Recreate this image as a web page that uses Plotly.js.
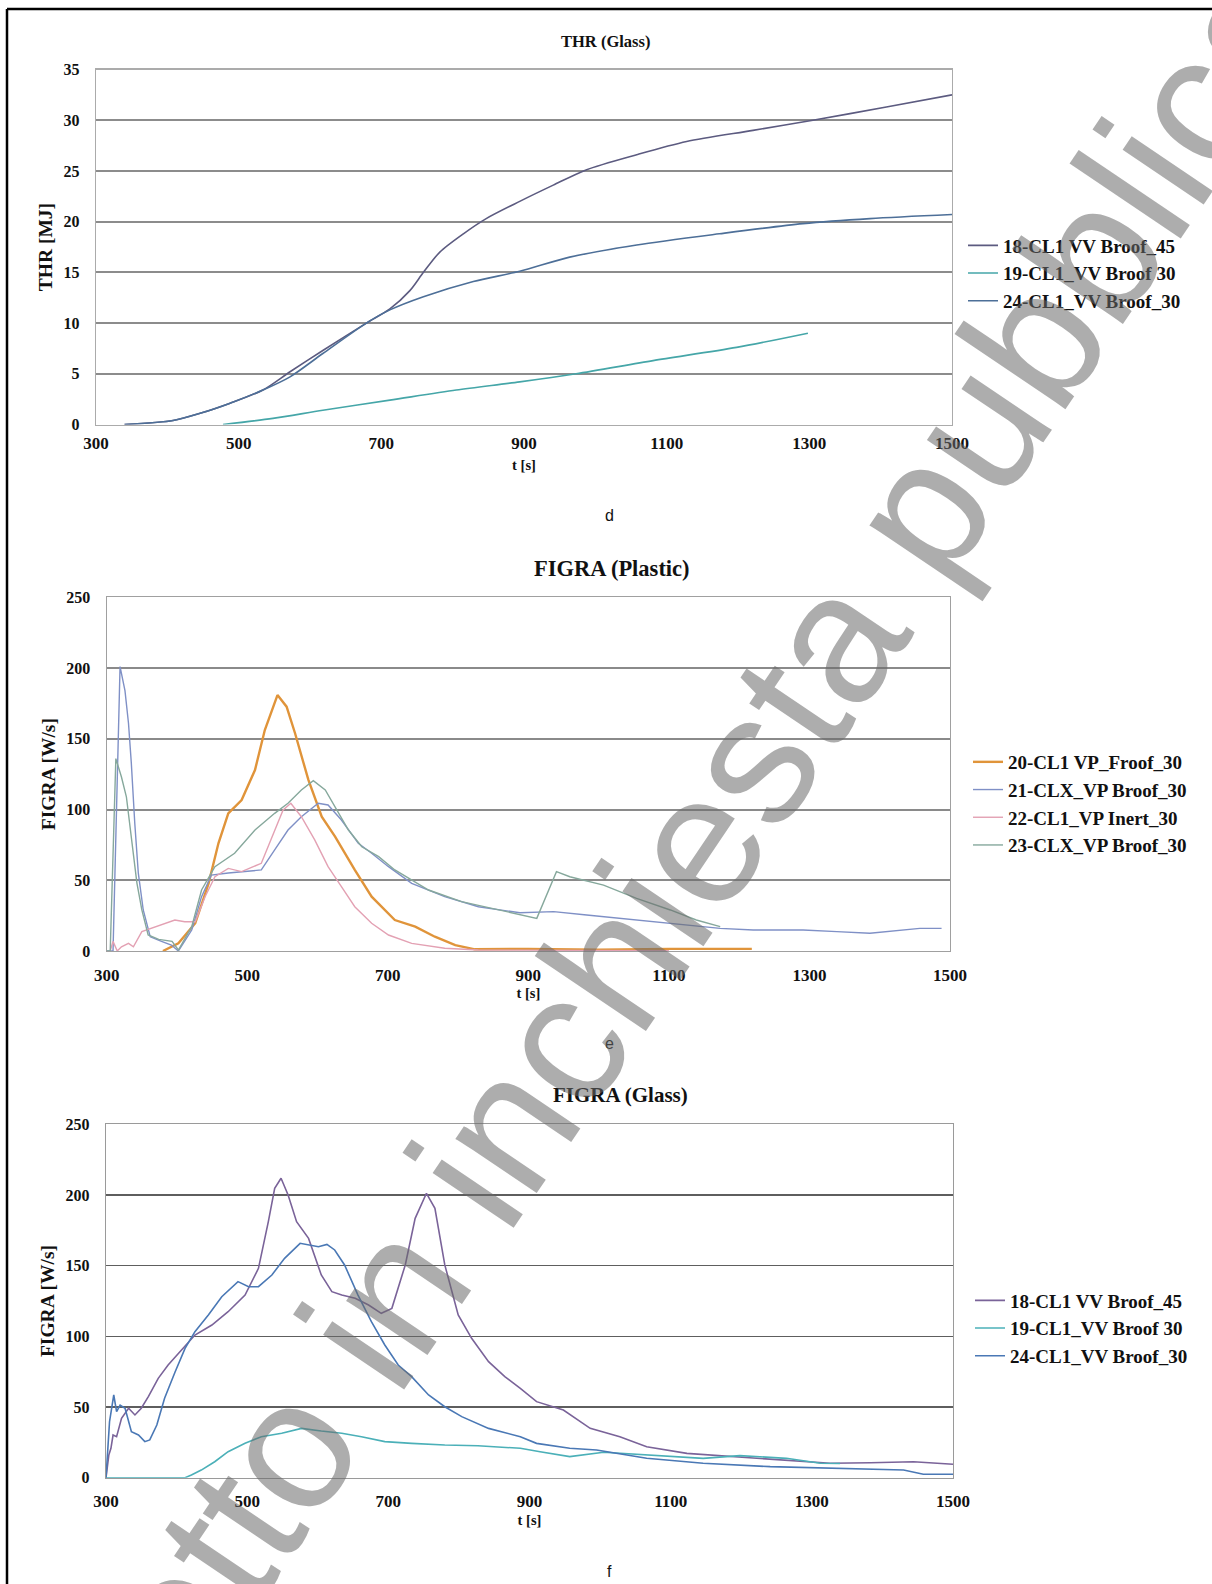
<!DOCTYPE html>
<html><head><meta charset="utf-8">
<script src="https://cdn.plot.ly/plotly-3.0.1.min.js"></script>
<style>html,body{margin:0;padding:0;background:#fff}#chart{width:1212px;height:1584px}</style>
</head><body><div id="chart"></div>
<script>
// ---------- Data: THR (Glass) ----------
const thrT18 = [340, 408, 446, 488, 534, 572, 618, 679, 712, 740, 759, 782, 815, 847, 894, 941, 987, 1058, 1128, 1221, 1305, 1408, 1500];
const thrV18 = [0, 0.4, 1.1, 2.1, 3.4, 5.2, 7.3, 10.0, 11.4, 13.2, 15.0, 17.0, 18.8, 20.3, 22.0, 23.6, 25.1, 26.6, 27.9, 29.0, 30.0, 31.3, 32.5];
const thrT19 = [478, 548, 618, 712, 805, 894, 973, 1081, 1198, 1298];
const thrV19 = [0, 0.6, 1.4, 2.4, 3.4, 4.2, 5.0, 6.3, 7.6, 9.0];
const thrT24 = [340, 408, 446, 488, 534, 572, 618, 679, 712, 759, 829, 894, 964, 1058, 1174, 1291, 1385, 1500];
const thrV24 = [0, 0.4, 1.1, 2.1, 3.4, 4.7, 7.0, 10.0, 11.3, 12.6, 14.1, 15.1, 16.5, 17.7, 18.8, 19.8, 20.3, 20.7];

// ---------- Data: FIGRA (Plastic) ----------
const plT20 = [380, 402, 426, 445, 459, 473, 492, 511, 525, 543, 556, 568, 587, 606, 625, 653, 677, 710, 739, 767, 796, 824, 900, 1000, 1100, 1218];
const plV20 = [0, 5.4, 19.6, 47.8, 76.1, 97.3, 106.7, 127.9, 156.2, 180.9, 172.7, 153.9, 120.9, 94.9, 80.8, 57.3, 38.4, 21.9, 17.2, 10.1, 4.2, 1.2, 1.5, 1.0, 1.5, 1.5];
const plT21 = [300, 309, 319, 326, 331, 335, 340, 345, 352, 362, 378, 392, 402, 421, 435, 449, 473, 497, 520, 539, 558, 577, 601, 615, 634, 658, 677, 701, 734, 781, 829, 888, 936, 983, 1030, 1102, 1173, 1220, 1291, 1339, 1386, 1457, 1488];
const plV21 = [0, 0, 201, 184, 161, 133, 90, 55, 29, 10, 6.8, 4.2, 0, 14.8, 38.4, 53.7, 55.1, 56.1, 57.3, 71.4, 85.5, 94.9, 104.4, 103.2, 92.6, 76.1, 69.1, 59.6, 47.8, 38.4, 31.3, 27.0, 27.8, 25.4, 23.1, 19.6, 16.0, 14.8, 14.8, 13.7, 12.5, 16.0, 16.0];
const plT22 = [305, 309, 315, 321, 331, 338, 350, 364, 378, 397, 411, 426, 440, 454, 473, 492, 520, 539, 551, 562, 577, 596, 615, 634, 653, 677, 701, 734, 781, 829, 900, 1000, 1100];
const plV22 = [0, 6.8, 0, 3.0, 5.4, 3.0, 13.7, 16.0, 18.4, 21.9, 20.7, 20.7, 38.4, 52.5, 58.4, 56.1, 62.0, 85.5, 99.7, 104.4, 94.9, 78.5, 59.6, 45.5, 31.3, 19.6, 11.3, 5.4, 1.9, 0.7, 0.5, 0.3, 0.3];
const plT23 = [300, 305, 313, 321, 328, 336, 343, 350, 359, 374, 393, 402, 421, 435, 454, 482, 511, 539, 558, 577, 594, 611, 625, 644, 663, 687, 710, 758, 805, 888, 912, 940, 959, 1007, 1054, 1102, 1139, 1173];
const plV23 = [0, 0, 136, 123, 109, 76, 48, 29, 11.3, 8.2, 6.8, 0.7, 17.2, 43.1, 59.6, 69.1, 85.5, 97.3, 104.4, 113.8, 120.4, 113.8, 102.0, 85.5, 73.7, 66.7, 57.3, 43.1, 34.9, 25.4, 23.1, 56.1, 52.5, 46.6, 37.2, 29.0, 21.9, 17.2];

// ---------- Data: FIGRA (Glass) ----------
const glT18 = [300, 304, 307, 310, 315, 322, 332, 341, 350, 360, 374, 388, 407, 426, 450, 473, 497, 516, 530, 539, 548, 558, 570, 587, 605, 620, 634, 653, 672, 690, 705, 724, 738, 754, 766, 780, 799, 818, 842, 865, 887, 910, 948, 986, 1028, 1066, 1123, 1194, 1264, 1326, 1383, 1444, 1500];
const glV18 = [0, 16, 20.8, 30.2, 29, 42, 49.1, 44.4, 49.1, 57.3, 70.3, 79.7, 90.3, 100.9, 108, 117.4, 129.2, 148.1, 181.1, 204.7, 211.8, 200, 181.1, 169.3, 143.4, 131.6, 129.2, 126.9, 122.2, 116.3, 119.8, 150.5, 183.5, 201.2, 190.6, 150.5, 115.1, 98.6, 82.1, 71.5, 63.2, 53.8, 47.9, 34.9, 29, 21.9, 17.2, 14.9, 12.5, 10.2, 10.6, 11.3, 9.5];
const glT19 = [300, 412, 421, 435, 454, 473, 497, 520, 549, 577, 605, 634, 662, 695, 733, 780, 827, 887, 915, 957, 1005, 1076, 1146, 1198, 1264, 1312, 1340];
const glV19 = [0, 0, 1.9, 5.4, 11.3, 18.4, 24.3, 29, 31.4, 34.9, 33, 31.4, 29, 25.5, 24.3, 23.1, 22.6, 20.8, 18.4, 14.9, 18, 16.1, 13.7, 15.6, 13.7, 10.2, 10];
const glT24 = [300, 305, 311, 315, 320, 327, 336, 346, 355, 362, 372, 383, 398, 412, 426, 445, 464, 487, 502, 516, 535, 553, 575, 587, 601, 613, 624, 638, 657, 676, 695, 714, 733, 757, 780, 804, 842, 887, 910, 957, 995, 1066, 1146, 1241, 1335, 1430, 1458, 1500];
const glV24 = [0, 39.6, 58.5, 46.7, 51.4, 49.1, 32.5, 30.2, 25.5, 26.7, 37.3, 56.2, 75, 91.5, 103.3, 115.1, 128, 138.7, 135.1, 135.1, 143.4, 155.2, 165.8, 164.6, 163.4, 165, 161.1, 150.5, 129.2, 110.4, 93.9, 79.7, 71.5, 58.5, 50.2, 43.2, 34.9, 29, 24.3, 20.8, 19.6, 13.7, 10.2, 7.8, 6.6, 5.4, 2.4, 2.4];

// ---------- Labels ----------
const xTickVals = [300, 500, 700, 900, 1100, 1300, 1500];
const names1 = ['18-CL1 VV Broof_45', '19-CL1_VV Broof 30', '24-CL1_VV Broof_30'];
const names2 = ['20-CL1 VP_Froof_30', '21-CLX_VP Broof_30', '22-CL1_VP Inert_30', '23-CLX_VP Broof_30'];
const titles = ['THR (Glass)', 'FIGRA (Plastic)', 'FIGRA (Glass)'];
const yTitles = ['THR [MJ]', 'FIGRA [W/s]', 'FIGRA [W/s]'];
const xTitle = 't [s]';
const panelLetters = ['d', 'e', 'f'];
const watermark = 'Progetto in inchiesta pubblica';

// ---------- Layout helpers ----------
const W = 1212, H = 1584;
const fx = v => v / W, fy = v => 1 - v / H;
const tnr = (s) => ({family: 'Liberation Serif', size: s, color: '#111', weight: 'bold'});

function tr(x, y, name, color, width, xa, ya, lg, shape) {
  return {x: x, y: y, name: name, type: 'scatter', mode: 'lines', xaxis: xa, yaxis: ya,
    legend: lg, legendgroup: lg + name,
    line: {color: color, width: width, shape: shape || 'linear', smoothing: 0.8}};
}

const traces = [
  tr(thrT18, thrV18, names1[0], '#5c5b80', 1.6, 'x', 'y', 'legend', 'spline'),
  tr(thrT19, thrV19, names1[1], '#45a6a8', 1.6, 'x', 'y', 'legend', 'spline'),
  tr(thrT24, thrV24, names1[2], '#4d6f98', 1.6, 'x', 'y', 'legend', 'spline'),
  tr(plT20, plV20, names2[0], '#e0943a', 2.4, 'x2', 'y2', 'legend2'),
  tr(plT21, plV21, names2[1], '#7f90c6', 1.4, 'x2', 'y2', 'legend2'),
  tr(plT22, plV22, names2[2], '#e3a1b3', 1.4, 'x2', 'y2', 'legend2'),
  tr(plT23, plV23, names2[3], '#86a89c', 1.4, 'x2', 'y2', 'legend2'),
  tr(glT18, glV18, names1[0], '#7a6399', 1.6, 'x3', 'y3', 'legend3'),
  tr(glT19, glV19, names1[1], '#4bb0b8', 1.6, 'x3', 'y3', 'legend3'),
  tr(glT24, glV24, names1[2], '#4a78b5', 1.6, 'x3', 'y3', 'legend3')
];

function xAxis(d0, d1, anchor, lineColor, standoff, titleStandoff) {
  return {domain: [fx(d0), fx(d1)], anchor: anchor, range: [300, 1500], tickvals: xTickVals,
    showgrid: false, zeroline: false, showline: true, mirror: true, linecolor: lineColor, linewidth: 1.2,
    ticks: '', ticklabelstandoff: standoff, tickfont: tnr(17), fixedrange: true,
    title: {text: xTitle, font: tnr(14.5), standoff: titleStandoff}};
}
function yAxis(d0, d1, anchor, rng, dt, gridColor, gridWidth, lineColor, title) {
  return {domain: [fy(d0), fy(d1)], anchor: anchor, range: rng, dtick: dt, tick0: 0,
    showgrid: true, gridcolor: gridColor, gridwidth: gridWidth, zeroline: false,
    showline: true, mirror: true, linecolor: lineColor, linewidth: 1.2,
    ticks: '', ticklabelstandoff: 12, tickfont: tnr(16), fixedrange: true,
    title: {text: title, font: tnr(19.5), standoff: 5}};
}
function legend(xPx, yPx, gap) {
  return {x: fx(xPx), xanchor: 'left', y: fy(yPx), yanchor: 'middle', bgcolor: 'rgba(0,0,0,0)',
    font: tnr(19), tracegroupgap: gap, itemwidth: 30};
}
function ann(text, xPx, yPx, font, extra) {
  return Object.assign({text: text, xref: 'paper', yref: 'paper', x: fx(xPx), y: fy(yPx),
    xanchor: 'center', yanchor: 'middle', showarrow: false, font: font}, extra || {});
}

const layout = {
  width: W, height: H, margin: {l: 0, r: 0, t: 0, b: 0},
  paper_bgcolor: '#ffffff', plot_bgcolor: '#ffffff', showlegend: true,
  xaxis: xAxis(96, 952, 'y', '#ababab', 3, 7),
  yaxis: yAxis(424.5, 69.5, 'x', [0, 35], 5, '#8c8c8c', 2, '#ababab', yTitles[0]),
  xaxis2: xAxis(106.7, 950, 'y2', '#a0a0a0', 8, 4),
  yaxis2: yAxis(951, 597.3, 'x2', [0, 250], 50, '#8a8a8a', 2, '#a0a0a0', yTitles[1]),
  xaxis3: xAxis(106, 953, 'y3', '#9a9a9a', 8, 4),
  yaxis3: yAxis(1477.7, 1124.3, 'x3', [0, 250], 50, '#5e5e5e', 1.2, '#9a9a9a', yTitles[2]),
  legend: legend(963, 273.5, 0),
  legend2: legend(968, 803.5, 0),
  legend3: legend(970, 1328.5, 0),
  annotations: [
    ann(titles[0], 605, 42, tnr(16.5)),
    ann(titles[1], 612, 568, tnr(22.5)),
    ann(titles[2], 620, 1095, tnr(21)),
    ann(panelLetters[0], 609, 516, {family: 'Liberation Sans', size: 16, color: '#111'}),
    ann(panelLetters[1], 609, 1043, {family: 'Liberation Sans', size: 16, color: '#111'}),
    ann(panelLetters[2], 609, 1571, {family: 'Liberation Sans', size: 16, color: '#111'}),
    ann(watermark, 600, 985, {family: 'Liberation Sans', size: 185, color: 'rgba(105,105,105,0.55)'}, {textangle: -56})
  ],
  shapes: [
    {type: 'line', xref: 'paper', yref: 'paper', x0: fx(7), x1: 1, y0: fy(9), y1: fy(9), line: {color: '#000', width: 2.5}},
    {type: 'line', xref: 'paper', yref: 'paper', x0: fx(7), x1: fx(7), y0: fy(9), y1: 0, line: {color: '#000', width: 2.5}}
  ]
};

Plotly.newPlot('chart', traces, layout, {staticPlot: true, displayModeBar: false});
</script></body></html>
